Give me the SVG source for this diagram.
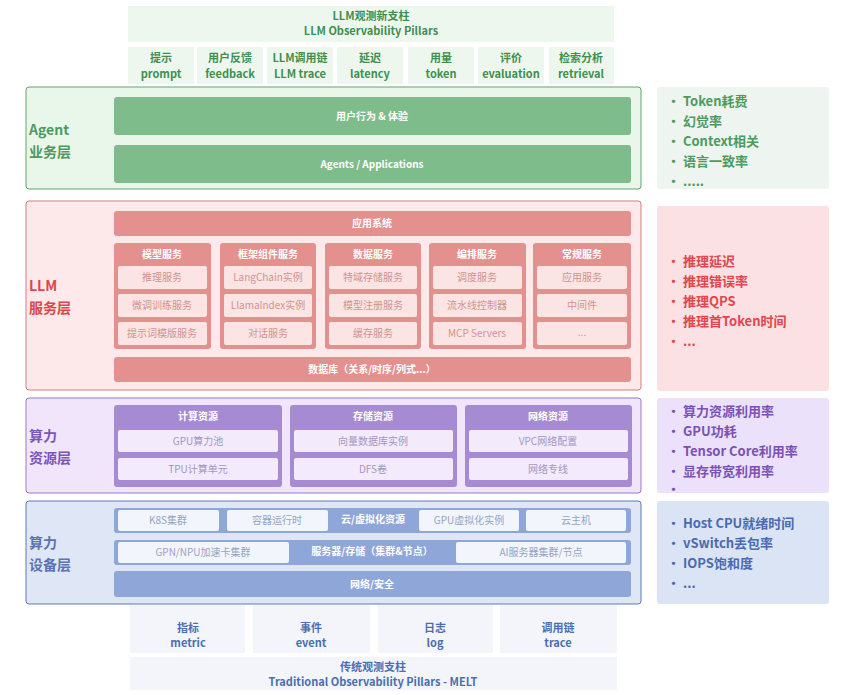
<svg xmlns="http://www.w3.org/2000/svg" width="846" height="695" viewBox="0 0 846 695">
<style>
text{font-family:"Noto Sans CJK SC","Noto Sans",sans-serif;text-anchor:middle}
.g{fill:#3f8f50;font-size:11px;font-weight:bold}
.gb{fill:#7fbc8c}
.wt{fill:#fff;font-size:10px;font-weight:bold}
.rb{fill:#e3908e}
.ri{fill:#fbe4e4}
.rt{fill:#d0948f;font-size:10px}
.pb{fill:#a68bd3}
.pi{fill:#f3ebfc}
.pt{fill:#a495c0;font-size:10px}
.bi{fill:#f2f5fc}
.bt{fill:#97a3c3;font-size:10px}
.lbl{text-anchor:start;font-size:14px;font-weight:bold}
.side{text-anchor:start;font-size:13px;font-weight:bold}
.bot{fill:#4a6fb0;font-size:11px;font-weight:bold}
</style>
<rect width="846" height="695" fill="#fff"/>
<g id="llm-pillars">
<rect x="128" y="6" width="486" height="36" fill="#eef7ee"/>
<text class="g" x="371" y="20">LLM观测新支柱</text>
<text class="g" x="371" y="35">LLM Observability Pillars</text>
<g fill="#eef7ee">
<rect x="128" y="47" width="66" height="37"/><rect x="197" y="47" width="66" height="37"/><rect x="267" y="47" width="66" height="37"/><rect x="337" y="47" width="66" height="37"/><rect x="408" y="47" width="66" height="37"/><rect x="478" y="47" width="66" height="37"/><rect x="549" y="47" width="65" height="37"/>
</g>
<text class="g" x="161" y="62">提示</text><text class="g" x="161" y="78">prompt</text>
<text class="g" x="230" y="62">用户反馈</text><text class="g" x="230" y="78">feedback</text>
<text class="g" x="300" y="62">LLM调用链</text><text class="g" x="300" y="78">LLM trace</text>
<text class="g" x="370" y="62">延迟</text><text class="g" x="370" y="78">latency</text>
<text class="g" x="441" y="62">用量</text><text class="g" x="441" y="78">token</text>
<text class="g" x="511" y="62">评价</text><text class="g" x="511" y="78">evaluation</text>
<text class="g" x="581" y="62">检索分析</text><text class="g" x="581" y="78">retrieval</text>
</g>
<g id="agent-layer">
<rect x="26" y="87" width="615" height="102" rx="3" fill="#e9f6ea" stroke="#5aa86a"/>
<text class="lbl" x="29" y="135" fill="#4f9a5e">Agent</text>
<text class="lbl" x="29" y="157" fill="#4f9a5e">业务层</text>
<rect class="gb" x="114" y="97" width="517" height="38" rx="3"/>
<text class="wt" x="372" y="120">用户行为 &amp; 体验</text>
<rect class="gb" x="114" y="145" width="517" height="38" rx="3"/>
<text class="wt" x="372" y="168">Agents / Applications</text>
</g>
<g id="agent-metrics">
<rect x="657" y="87" width="172" height="102" rx="3" fill="#eef4ef"/>
<text class="side" x="667" y="106" fill="#4f9a5e">•  Token耗费</text>
<text class="side" x="667" y="126" fill="#4f9a5e">•  幻觉率</text>
<text class="side" x="667" y="146" fill="#4f9a5e">•  Context相关</text>
<text class="side" x="667" y="166" fill="#4f9a5e">•  语言一致率</text>
<text class="side" x="667" y="186" fill="#4f9a5e">•  .....</text>
</g>
<g id="llm-layer">
<rect x="26" y="201" width="615" height="189" rx="3" fill="#fde9ea" stroke="#d97b80"/>
<text class="lbl" x="29" y="291" fill="#d9474f">LLM</text>
<text class="lbl" x="29" y="313" fill="#d9474f">服务层</text>
<rect class="rb" x="114" y="211" width="517" height="25" rx="3"/>
<text class="wt" x="372" y="227">应用系统</text>
<rect class="rb" x="114" y="243" width="97" height="106" rx="3"/>
<rect class="rb" x="220" y="243" width="96" height="106" rx="3"/>
<rect class="rb" x="325" y="243" width="96" height="106" rx="3"/>
<rect class="rb" x="429" y="243" width="97" height="106" rx="3"/>
<rect class="rb" x="533" y="243" width="98" height="106" rx="3"/>
<text class="wt" x="162" y="258">模型服务</text>
<text class="wt" x="268" y="258">框架组件服务</text>
<text class="wt" x="373" y="258">数据服务</text>
<text class="wt" x="477" y="258">编排服务</text>
<text class="wt" x="582" y="258">常规服务</text>
<g>
<rect class="ri" x="118" y="266" width="89" height="23" rx="2"/><rect class="ri" x="118" y="294" width="89" height="23" rx="2"/><rect class="ri" x="118" y="322" width="89" height="23" rx="2"/>
<rect class="ri" x="224" y="266" width="88" height="23" rx="2"/><rect class="ri" x="224" y="294" width="88" height="23" rx="2"/><rect class="ri" x="224" y="322" width="88" height="23" rx="2"/>
<rect class="ri" x="329" y="266" width="88" height="23" rx="2"/><rect class="ri" x="329" y="294" width="88" height="23" rx="2"/><rect class="ri" x="329" y="322" width="88" height="23" rx="2"/>
<rect class="ri" x="433" y="266" width="89" height="23" rx="2"/><rect class="ri" x="433" y="294" width="89" height="23" rx="2"/><rect class="ri" x="433" y="322" width="89" height="23" rx="2"/>
<rect class="ri" x="537" y="266" width="90" height="23" rx="2"/><rect class="ri" x="537" y="294" width="90" height="23" rx="2"/><rect class="ri" x="537" y="322" width="90" height="23" rx="2"/>
</g>
<text class="rt" x="162" y="281">推理服务</text><text class="rt" x="162" y="309">微调训练服务</text><text class="rt" x="162" y="337">提示词模版服务</text>
<text class="rt" x="268" y="281">LangChain实例</text><text class="rt" x="268" y="309">LlamaIndex实例</text><text class="rt" x="268" y="337">对话服务</text>
<text class="rt" x="373" y="281">特域存储服务</text><text class="rt" x="373" y="309">模型注册服务</text><text class="rt" x="373" y="337">缓存服务</text>
<text class="rt" x="477" y="281">调度服务</text><text class="rt" x="477" y="309">流水线控制器</text><text class="rt" x="477" y="337">MCP Servers</text>
<text class="rt" x="582" y="281">应用服务</text><text class="rt" x="582" y="309">中间件</text><text class="rt" x="582" y="336" font-family="Liberation Sans,sans-serif">...</text>
<rect class="rb" x="114" y="357" width="517" height="25" rx="3"/>
<text class="wt" x="372" y="373">数据库（关系/时序/列式...）</text>
</g>
<g id="llm-metrics">
<rect x="657" y="206" width="172" height="185" rx="3" fill="#fbe1e3"/>
<text class="side" x="667" y="266" fill="#e0474f">•  推理延迟</text>
<text class="side" x="667" y="286" fill="#e0474f">•  推理错误率</text>
<text class="side" x="667" y="306" fill="#e0474f">•  推理QPS</text>
<text class="side" x="667" y="326" fill="#e0474f">•  推理首Token时间</text>
<text class="side" x="667" y="346" fill="#e0474f">•  ...</text>
</g>
<g id="compute-resource-layer">
<rect x="26" y="398" width="615" height="95" rx="3" fill="#f1e5fb" stroke="#9a7ac9"/>
<text class="lbl" x="29" y="441" fill="#7b55b8">算力</text>
<text class="lbl" x="29" y="463" fill="#7b55b8">资源层</text>
<rect class="pb" x="114" y="405" width="168" height="82" rx="3"/>
<rect class="pb" x="290" y="405" width="167" height="82" rx="3"/>
<rect class="pb" x="465" y="405" width="167" height="82" rx="3"/>
<text class="wt" x="198" y="420">计算资源</text><text class="wt" x="373" y="420">存储资源</text><text class="wt" x="548" y="420">网络资源</text>
<rect class="pi" x="118" y="430" width="160" height="22" rx="2"/><rect class="pi" x="118" y="458" width="160" height="22" rx="2"/>
<rect class="pi" x="294" y="430" width="159" height="22" rx="2"/><rect class="pi" x="294" y="458" width="159" height="22" rx="2"/>
<rect class="pi" x="469" y="430" width="159" height="22" rx="2"/><rect class="pi" x="469" y="458" width="159" height="22" rx="2"/>
<text class="pt" x="198" y="445">GPU算力池</text><text class="pt" x="198" y="473">TPU计算单元</text>
<text class="pt" x="373" y="445">向量数据库实例</text><text class="pt" x="373" y="473">DFS卷</text>
<text class="pt" x="548" y="445">VPC网络配置</text><text class="pt" x="548" y="473">网络专线</text>
</g>
<g id="compute-metrics">
<rect x="657" y="398" width="172" height="95" rx="3" fill="#ece1fb"/>
<text class="side" x="667" y="416" fill="#7a52b5">•  算力资源利用率</text>
<text class="side" x="667" y="436" fill="#7a52b5">•  GPU功耗</text>
<text class="side" x="667" y="456" fill="#7a52b5">•  Tensor Core利用率</text>
<text class="side" x="667" y="476" fill="#7a52b5">•  显存带宽利用率</text>
<text class="side" x="667" y="494" fill="#7a52b5">•</text>
</g>
<g id="device-layer">
<rect x="26" y="501" width="615" height="103" rx="3" fill="#dfe7f6" stroke="#5f78b8"/>
<text class="lbl" x="29" y="548" fill="#5b73b3">算力</text>
<text class="lbl" x="29" y="570" fill="#5b73b3">设备层</text>
<rect x="114" y="508" width="517" height="25" rx="3" fill="#8fa6d9"/>
<rect class="bi" x="118" y="510" width="101" height="21" rx="2"/><rect class="bi" x="227" y="510" width="101" height="21" rx="2"/>
<rect class="bi" x="419" y="510" width="100" height="21" rx="2"/><rect class="bi" x="526" y="510" width="100" height="21" rx="2"/>
<text class="bt" x="168" y="524">K8S集群</text><text class="bt" x="277" y="524">容器运行时</text>
<text class="wt" x="373" y="523">云/虚拟化资源</text>
<text class="bt" x="469" y="524">GPU虚拟化实例</text><text class="bt" x="576" y="524">云主机</text>
<rect x="114" y="540" width="517" height="25" rx="3" fill="#8fa6d9"/>
<rect class="bi" x="118" y="542" width="171" height="21" rx="2"/><rect class="bi" x="456" y="542" width="170" height="21" rx="2"/>
<text class="bt" x="203" y="556">GPN/NPU加速卡集群</text>
<text class="wt" x="372" y="555">服务器/存储（集群&amp;节点）</text>
<text class="bt" x="541" y="556">AI服务器集群/节点</text>
<rect x="114" y="571" width="517" height="26" rx="3" fill="#8fa6d9"/>
<text class="wt" x="372" y="588">网络/安全</text>
</g>
<g id="device-metrics">
<rect x="657" y="501" width="172" height="103" rx="3" fill="#dbe4f4"/>
<text class="side" x="667" y="528" fill="#4a6bb0">•  Host CPU就绪时间</text>
<text class="side" x="667" y="548" fill="#4a6bb0">•  vSwitch丢包率</text>
<text class="side" x="667" y="568" fill="#4a6bb0">•  IOPS饱和度</text>
<text class="side" x="667" y="588" fill="#4a6bb0">•  ...</text>
</g>
<g id="melt-pillars">
<g fill="#f3f5fb">
<rect x="130" y="605" width="115" height="48"/><rect x="253" y="605" width="117" height="48"/><rect x="378" y="605" width="115" height="48"/><rect x="500" y="605" width="117" height="48"/>
<rect x="130" y="657" width="487" height="33"/>
</g>
<text class="bot" x="188" y="632">指标</text><text class="bot" x="188" y="647">metric</text>
<text class="bot" x="311" y="632">事件</text><text class="bot" x="311" y="647">event</text>
<text class="bot" x="435" y="632">日志</text><text class="bot" x="435" y="647">log</text>
<text class="bot" x="558" y="632">调用链</text><text class="bot" x="558" y="647">trace</text>
<text class="bot" x="373" y="671">传统观测支柱</text>
<text class="bot" x="373" y="686">Traditional Observability Pillars -  MELT</text>
</g>
<g id="connectors"/>
</svg>
